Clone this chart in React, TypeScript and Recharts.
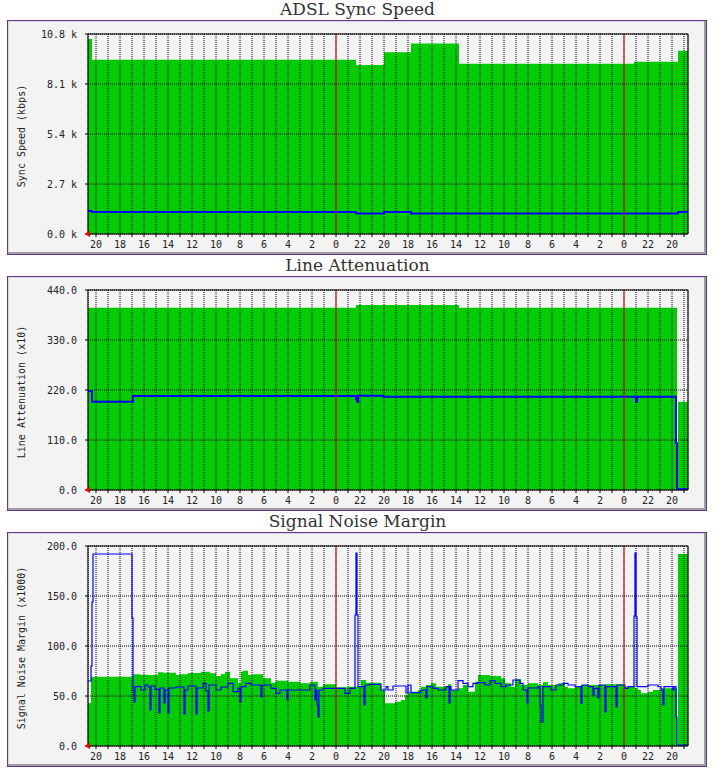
import React from 'react';
import { ComposedChart, Area, Line, XAxis, YAxis, ReferenceLine, ReferenceDot, CartesianGrid } from 'recharts';

// x = 5-minute sample index across the 600-sample window
const hourTicks = [8, 20, 32, 44, 56, 68, 80, 92, 104, 116, 128, 140, 152, 164, 176, 188, 200, 212, 224, 236, 248, 260, 272, 284, 296, 308, 320, 332, 344, 356, 368, 380, 392, 404, 416, 428, 440, 452, 464, 476, 488, 500, 512, 524, 536, 548, 560, 572, 584, 596];
const midnightTicks = [248, 536];

// ADSL Sync Speed (k)
const syncMaxIdx = [0, 4, 268, 296, 323, 371, 546, 590, 600];
const syncMaxVal = [10.53, 9.41, 9.13, 9.81, 10.29, 9.2, 9.3, 9.9, 9.9];
const syncCurIdx = [0, 4, 268, 296, 323, 590, 600];
const syncCurVal = [1.24, 1.19, 1.11, 1.19, 1.11, 1.19, 1.19];
const syncTicks = [0, 2.7, 5.4, 8.1, 10.8];

// Line Attenuation (x10)
const attMaxIdx = [0, 268, 371, 589, 589.5, 590, 600];
const attMaxVal = [401, 407, 401, 401, null, 194, 194];
const attCurIdx = [0, 4, 45, 268, 269, 270, 295, 548, 549, 588, 589, 600];
const attCurVal = [218, 194, 207, 200, 194, 207.5, 205, 194, 205, 103, 1.5, 1.5];
const attTicks = [0, 110, 220, 330, 440];

// Signal Noise Margin (x1000)
const snrMaxIdx = [0, 3, 45, 52, 60, 70, 75, 88, 92, 100, 113, 122, 128, 133, 137, 142, 150, 153, 155, 160, 165, 175, 183, 188, 200, 212, 222, 230, 235, 248, 260, 273, 278, 293, 297, 307, 313, 317, 320, 330, 333, 338, 343, 348, 360, 363, 370, 375, 380, 387, 390, 402, 413, 417, 423, 427, 433, 440, 450, 455, 460, 470, 477, 480, 487, 493, 517, 537, 547, 550, 553, 560, 565, 573, 589, 589.5, 590, 600];
const snrMaxVal = [43, 69.3, 71.7, 71.3, 71, 73.7, 73.3, 71, 71.7, 73, 74.3, 72.7, 70, 72, 74.3, 67.7, 62.7, 74.3, 75.3, 71, 71.7, 67.7, 63.3, 65.3, 64.3, 62.7, 64.3, 59.3, 61.7, 58.7, 59.3, 66, 63.3, 56, 42.7, 44.3, 46, 51, 54.3, 56, 59.3, 61, 62.7, 59.3, 61.7, 56, 57.7, 61, 54.3, 64.3, 71, 70, 67.7, 62.7, 59.3, 66.7, 61, 62.7, 61, 63.7, 61, 62.7, 59.3, 57.7, 59.3, 61, 61.7, 59.3, 57.7, 56, 52.7, 54.3, 56, 57.7, 57.7, null, 192, 192];
const snrCurIdx = [0, 3, 4, 5, 44, 45, 46, 47, 53, 57, 60, 62, 63, 67, 71, 72, 76, 77, 80, 81, 88, 96, 97, 100, 108, 109, 115, 118, 120, 121, 128, 133, 140, 145, 150, 152, 153, 158, 163, 173, 174, 183, 188, 192, 199, 200, 222, 227, 228, 229, 230, 231, 235, 257, 262, 267, 268, 269, 270, 276, 277, 282, 293, 298, 300, 305, 318, 320, 323, 333, 338, 339, 345, 350, 358, 361, 362, 363, 370, 375, 380, 385, 390, 397, 402, 407, 413, 418, 425, 432, 435, 439, 440, 450, 452, 453, 455, 463, 468, 475, 480, 487, 493, 494, 500, 505, 506, 510, 511, 517, 518, 528, 529, 537, 540, 546, 547, 548, 549, 560, 570, 573, 575, 576, 585, 586, 588, 589, 600];
const snrCurVal = [65, 80, 144, 192, 128, 55, 44, 59.3, 56, 61, 59, 36, 60, 56.7, 33, 58, 43, 56, 33, 58, 59, 32, 56, 60, 32, 58, 62.7, 55, 35, 61, 56, 59, 62.7, 54.3, 57.7, 44, 59.3, 62.7, 61, 49, 61, 57.7, 52.7, 56, 46, 56, 61, 46, 56, 41, 29, 56, 57.7, 52.7, 57.7, 131, 193, 131, 59.3, 41, 61, 61.7, 56, 59.3, 56, 60, 53, 61, 53.3, 56, 48, 59.3, 57.7, 56, 59.3, 43, 59.3, 56, 65.3, 62.7, 59.3, 62.7, 63.3, 61, 65.3, 62.7, 59.3, 61, 66, 62.7, 56, 43, 58, 59.3, 41, 24, 59.3, 56, 61, 62.7, 61, 59.3, 42.7, 61, 59.3, 51, 57.7, 48, 61, 34, 59.3, 39, 61, 57.7, 59.3, 130, 193, 129, 59.3, 61, 59.3, 56, 41, 59.3, 56, 59.3, 29, 1, 1];
const snrTicks = [0, 50, 100, 150, 200];

const zip = (idx: number[], val: (number | null)[]) => idx.map((i, k) => ({ i, v: val[k] }));

const hourLabel = (i: number) => {
  const h = 20 - (i - 8) / 12;
  if (Math.abs(h % 2) > 0.001) return '';
  return String(((h % 24) + 24) % 24);
};

const MONO = "'DejaVu Sans Mono', monospace";
const tickStyle = { fontSize: 10, fontFamily: MONO, fill: '#222' };

const arrow = (p: any) => {
  const { cx, cy } = p;
  return <polygon points={`${cx - 3.5},${cy} ${cx + 2},${cy - 3} ${cx + 2},${cy + 3}`} fill="#ff0000" />;
};

type PanelProps = {
  boxTop: number;
  title: string;
  yLabel: string;
  yTicks: number[];
  fmt: (v: number) => string;
  area: { i: number; v: number | null }[];
  line: { i: number; v: number | null }[];
  lineWidth: number;
};

const MARGIN = { top: 14, right: 9, bottom: 0, left: 0 };

function Panel({ boxTop, title, yLabel, yTicks, fmt, area, line, lineWidth }: PanelProps) {
  const yMax = yTicks[yTicks.length - 1];
  const axes = (visible: boolean) => [
    <XAxis
      key="x" dataKey="i" type="number" domain={[0, 600]} ticks={hourTicks} interval={0} allowDataOverflow
      tickFormatter={hourLabel} tickSize={3} tickMargin={4} height={21}
      axisLine={visible ? { stroke: '#000' } : false} tickLine={visible ? { stroke: '#000' } : false}
      tick={visible ? tickStyle : false}
    />,
    <YAxis
      key="y" type="number" domain={[0, yMax]} ticks={yTicks} interval={0} width={81} allowDataOverflow
      tickFormatter={fmt} tickSize={3} tickMargin={8}
      axisLine={visible ? { stroke: '#000' } : false} tickLine={visible ? { stroke: '#000' } : false}
      tick={visible ? tickStyle : false}
    />,
    <YAxis
      key="yr" yAxisId="r" orientation="right" type="number" domain={[0, yMax]} ticks={yTicks} interval={0} width={10}
      tickFormatter={() => ''} tickSize={3}
      axisLine={visible ? { stroke: '#000' } : false} tickLine={visible ? { stroke: '#000' } : false}
    />,
  ];
  return (
    <>
      <div
        style={{
          position: 'absolute', left: 0, top: boxTop - 19.4, width: 715, textAlign: 'center',
          fontFamily: "'DejaVu Serif', serif", fontSize: 17, lineHeight: '17px', color: '#333', whiteSpace: 'nowrap',
        }}
      >
        {title}
      </div>
      <div
        style={{
          position: 'absolute', left: 7, top: boxTop, width: 700, height: 235, boxSizing: 'border-box',
          border: '1px solid #5f3790', background: '#f3f3f3',
          boxShadow: 'inset -2px -2px 0 #9e9e9e, inset 1px 1px 0 #d8d8d8',
        }}
      />
      <div
        style={{
          position: 'absolute', left: 22, top: boxTop + 116, transform: 'translate(-50%, -50%) rotate(-90deg)',
          fontFamily: MONO, fontSize: 10, color: '#222', whiteSpace: 'nowrap', lineHeight: '10px',
        }}
      >
        {yLabel}
      </div>
      {/* lower layer: filled area */}
      <div style={{ position: 'absolute', left: 7, top: boxTop, width: 700, height: 235 }}>
        <ComposedChart width={700} height={235} margin={MARGIN}>
          {axes(false)}
          <Area
            data={area} dataKey="v" type="stepAfter" fill="#00cc00" fillOpacity={1} stroke="none"
            isAnimationActive={false} connectNulls={false} baseValue={0}
          />
        </ComposedChart>
      </div>
      {/* upper layer: grid, line, axes */}
      <div style={{ position: 'absolute', left: 7, top: boxTop, width: 700, height: 235 }}>
        <ComposedChart width={700} height={235} margin={MARGIN}>
          <CartesianGrid stroke="#000" strokeDasharray="1 1" horizontal vertical />
          {axes(true)}
          <Line
            data={line} dataKey="v" type="stepAfter" stroke="#0000ff" strokeWidth={lineWidth}
            dot={false} activeDot={false} isAnimationActive={false}
          />
          {midnightTicks.map((t) => (
            <ReferenceLine key={'m' + t} x={t} stroke="#ff0000" />
          ))}
          <ReferenceLine y={yMax} stroke="#000" />
          <ReferenceDot x={0} y={0} r={3} shape={arrow} ifOverflow="visible" />
        </ComposedChart>
      </div>
    </>
  );
}

export default function App() {
  return (
    <div style={{ position: 'absolute', left: 0, top: 0, width: 715, height: 776, background: '#fff' }}>
      <Panel
        boxTop={20} title="ADSL Sync Speed" yLabel="Sync Speed (kbps)" yTicks={syncTicks}
        fmt={(v) => v.toFixed(1) + ' k'} area={zip(syncMaxIdx, syncMaxVal)} line={zip(syncCurIdx, syncCurVal)} lineWidth={2}
      />
      <Panel
        boxTop={276} title="Line Attenuation" yLabel="Line Attenuation (x10)" yTicks={attTicks}
        fmt={(v) => v.toFixed(1)} area={zip(attMaxIdx, attMaxVal)} line={zip(attCurIdx, attCurVal)} lineWidth={2}
      />
      <Panel
        boxTop={532} title="Signal Noise Margin" yLabel="Signal Noise Margin (x1000)" yTicks={snrTicks}
        fmt={(v) => v.toFixed(1)} area={zip(snrMaxIdx, snrMaxVal)} line={zip(snrCurIdx, snrCurVal)} lineWidth={1.2}
      />
    </div>
  );
}
